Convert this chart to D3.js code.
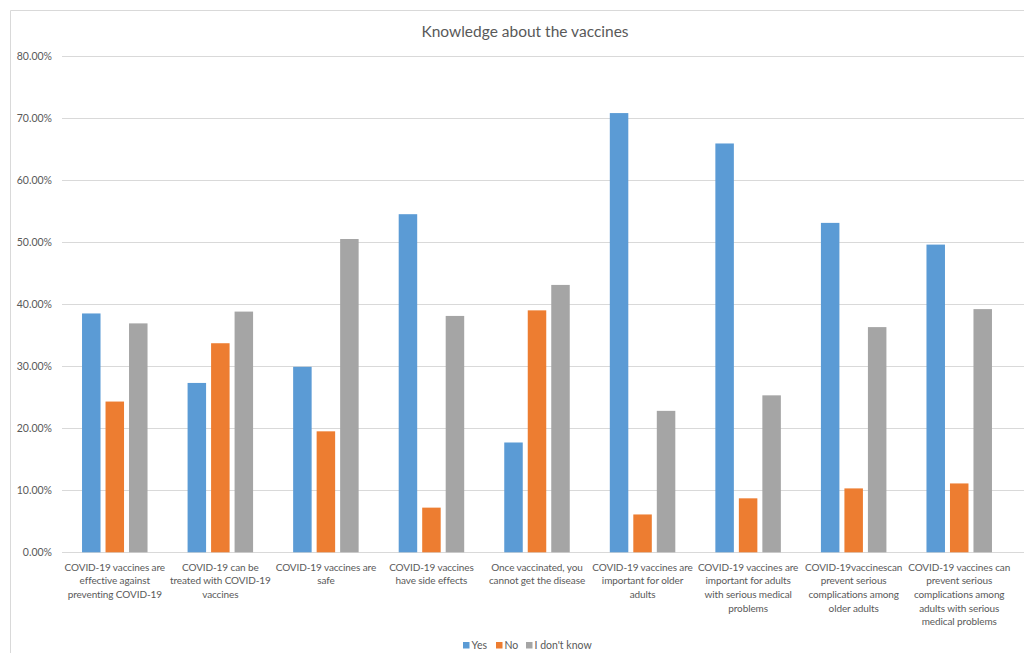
<!DOCTYPE html>
<html>
<head>
<meta charset="utf-8">
<script src="https://cdn.jsdelivr.net/npm/d3@7"></script>
<style>
  body { margin: 0; background: #fff; }
  svg { display: block; }
  text { font-family: Lato, "Open Sans", sans-serif; fill: #595959; }
</style>
</head>
<body>
<svg id="chart" width="1024" height="653"></svg>
<script>
// Survey statements (x categories), one line of the wrapped label per entry
const categories = [
  ["COVID-19 vaccines are", "effective against", "preventing COVID-19"],
  ["COVID-19 can be", "treated with COVID-19", "vaccines"],
  ["COVID-19 vaccines are", "safe"],
  ["COVID-19 vaccines", "have side effects"],
  ["Once vaccinated, you", "cannot get the disease"],
  ["COVID-19 vaccines are", "important for older", "adults"],
  ["COVID-19 vaccines are", "important for adults", "with serious medical", "problems"],
  ["COVID-19vaccinescan", "prevent serious", "complications among", "older adults"],
  ["COVID-19 vaccines can", "prevent serious", "complications among", "adults with serious", "medical problems"]
];

const seriesNames = ["Yes", "No", "I don't know"];
const seriesColors = ["#5B9BD5", "#ED7D31", "#A5A5A5"];

// Share of respondents (%) per answer
const yesValues      = [38.5, 27.3, 29.9, 54.5, 17.7, 70.8, 65.9, 53.1, 49.6];
const noValues       = [24.3, 33.7, 19.5, 7.2, 39.0, 6.1, 8.7, 10.3, 11.1];
const dontKnowValues = [36.9, 38.8, 50.5, 38.1, 43.1, 22.8, 25.3, 36.3, 39.2];

const yTicks = [0, 10, 20, 30, 40, 50, 60, 70, 80];

const title = "Knowledge about the vaccines";

const svg = d3.select("#chart");

// chart frame
svg.append("path")
  .attr("d", "M10.5,653 V10.5 H1024")
  .attr("fill", "none")
  .attr("stroke", "#D9D9D9")
  .attr("stroke-width", 1);

const plotLeft = 62, plotRight = 1024;
const y = d3.scaleLinear().domain([0, 80]).range([552.3, 56]);

const x0 = d3.scaleBand()
  .domain(d3.range(categories.length))
  .range([62, 1012])
  .paddingInner(0)
  .paddingOuter(0);

const groupWidth = 65.5;
const x1 = d3.scaleBand()
  .domain(seriesNames)
  .range([0, groupWidth])
  .paddingInner(5 / 23.5)
  .paddingOuter(0);

// gridlines
svg.append("g")
  .selectAll("line")
  .data(yTicks)
  .join("line")
  .attr("x1", plotLeft)
  .attr("x2", plotRight)
  .attr("y1", d => Math.round(y(d)) + 0.5)
  .attr("y2", d => Math.round(y(d)) + 0.5)
  .attr("stroke", "#D9D9D9")
  .attr("stroke-width", 1);

// y axis labels
const yAxis = d3.axisLeft(y)
  .tickValues(yTicks)
  .tickSize(0)
  .tickPadding(0)
  .tickFormat(d => d3.format(".2f")(d) + "%");

const yG = svg.append("g")
  .attr("transform", "translate(52,0)")
  .call(yAxis);
yG.select(".domain").remove();
yG.selectAll("text")
  .attr("font-size", "10.5px")
  .attr("font-family", "Lato, 'Open Sans', sans-serif")
  .attr("fill", "#595959");

// bars
const seriesData = [yesValues, noValues, dontKnowValues];
const groups = svg.append("g")
  .selectAll("g")
  .data(categories.map((c, i) => i))
  .join("g")
  .attr("transform", i => `translate(${x0(i) + (x0.bandwidth() - groupWidth) / 2},0)`);

groups.selectAll("rect")
  .data(i => seriesNames.map((s, k) => ({ s, k, v: seriesData[k][i] })))
  .join("rect")
  .attr("x", d => x1(d.s))
  .attr("width", x1.bandwidth())
  .attr("y", d => y(d.v))
  .attr("height", d => y(0) - y(d.v))
  .attr("fill", d => seriesColors[d.k]);

// category labels
const xAxis = d3.axisBottom(x0).tickSize(0).tickFormat("");
const xG = svg.append("g")
  .attr("transform", `translate(0,${y(0)})`)
  .call(xAxis);
xG.select(".domain").remove();

const labelG = svg.append("g");
categories.forEach((lines, i) => {
  const cx = x0(i) + x0.bandwidth() / 2;
  const t = labelG.append("text")
    .attr("text-anchor", "middle")
    .attr("font-size", "10px")
    .attr("letter-spacing", "-0.1px");
  lines.forEach((ln, j) => {
    t.append("tspan")
      .attr("x", cx)
      .attr("y", 570.5 + j * 13.7)
      .text(ln);
  });
});

// title
svg.append("text")
  .attr("x", 525)
  .attr("y", 36.5)
  .attr("text-anchor", "middle")
  .attr("font-size", "15.5px")
  .text(title);

// legend
const legendX = [463, 496, 526];
const legend = svg.append("g");
seriesNames.forEach((name, k) => {
  legend.append("rect")
    .attr("x", legendX[k])
    .attr("y", 642)
    .attr("width", 6.5)
    .attr("height", 6.5)
    .attr("fill", seriesColors[k]);
  legend.append("text")
    .attr("x", legendX[k] + 8.5)
    .attr("y", 649)
    .attr("font-size", "10.5px")
    .text(name);
});
</script>
</body>
</html>
